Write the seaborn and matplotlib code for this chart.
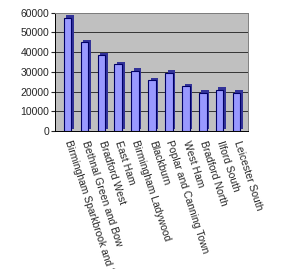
import matplotlib
matplotlib.use("Agg")
import matplotlib.pyplot as plt
import matplotlib.patheffects as pe
import seaborn as sns
import pandas as pd

categories = ["Birmingham Sparkbrook and Small Heath", "Bethnal Green and Bow",
              "Bradford West", "East Ham", "Birmingham Ladywood", "Blackburn",
              "Poplar and Canning Town", "West Ham", "Bradford North",
              "Ilford South", "Leicester South"]
values = [57500, 45000, 38500, 33800, 30500, 25800, 29500, 22700, 19300, 20800, 19300]
yticks = [0, 10000, 20000, 30000, 40000, 50000, 60000]

df = pd.DataFrame({"seat": categories, "value": values})

sns.set_style("white")
plt.rcParams["font.family"] = ["Liberation Sans", "DejaVu Sans"]

fig = plt.figure(figsize=(3.0, 2.69), dpi=100)
ax = fig.add_axes([0.183, 0.513, 0.645, 0.44])
ax.set_facecolor("#c0c0c0")

sns.barplot(data=df, x="seat", y="value", color="#9999ff", width=0.45,
            edgecolor="#000066", linewidth=0.8, saturation=1, ax=ax, zorder=3)
for p in ax.patches:
    p.set_path_effects([pe.SimplePatchShadow(offset=(1.8, 1.8), shadow_rgbFace="#333399", alpha=1.0),
                        pe.Normal()])

ax.set_ylim(0, 60000)
ax.set_yticks(yticks)
ax.set_yticklabels([str(v) for v in yticks], fontsize=7.5)
ax.yaxis.grid(True, color="#333333", linewidth=0.7, zorder=0)
ax.set_axisbelow(True)
ax.set_xlim(-0.75, len(categories) - 0.3)
ax.set_xticks(range(len(categories)))
ax.set_xticklabels(categories, rotation=-72, rotation_mode="anchor",
                   ha="left", va="center", fontsize=7.5)
ax.tick_params(axis="x", length=0, pad=7)
ax.tick_params(axis="y", length=3, direction="out", left=True, pad=1)
ax.set_xlabel("")
ax.set_ylabel("")
for s in ["top", "right"]:
    ax.spines[s].set_color("#808080")
    ax.spines[s].set_linewidth(0.7)
ax.spines["left"].set_color("#000000")
ax.spines["bottom"].set_color("#000000")
ax.spines["left"].set_linewidth(0.7)
ax.spines["bottom"].set_linewidth(0.7)

fig.savefig("out.png", dpi=100)
